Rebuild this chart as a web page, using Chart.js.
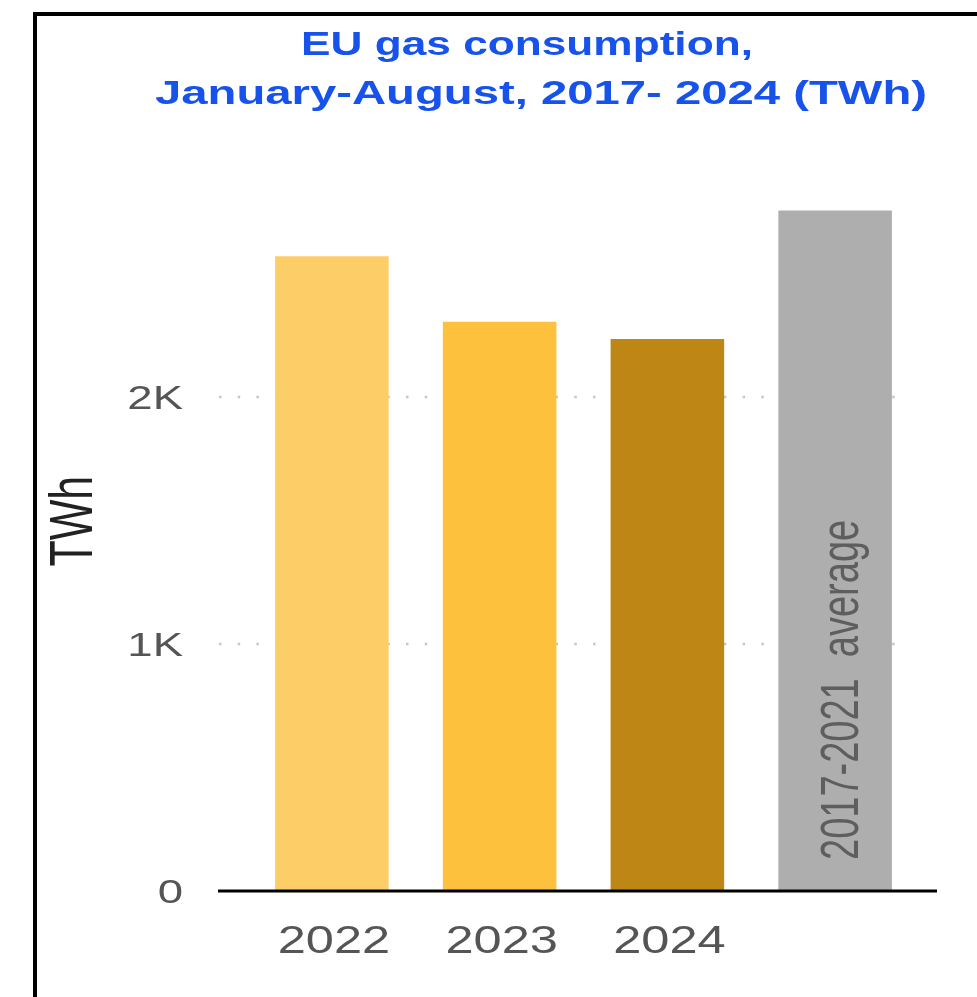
<!DOCTYPE html>
<html>
<head>
<meta charset="utf-8">
<title>EU gas consumption</title>
<script src="https://cdn.jsdelivr.net/npm/chart.js@4/dist/chart.umd.min.js"></script>
<style>
    html, body { margin: 0; padding: 0; background: #fff; overflow: hidden; }
    .frame {
        position: absolute; left: 33px; top: 12px;
        width: 1000px; height: 1000px;
        border-left: 4px solid #000; border-top: 4px solid #000;
    }
    #gasChart { position: absolute; left: 0; top: 0; }
</style>
</head>
<body>
<div class="frame"></div>
<canvas id="gasChart" width="977" height="997"></canvas>
<script>
// EU gas consumption, January-August (TWh)
const titleLines = ['EU gas consumption,', 'January-August, 2017- 2024 (TWh)'];
const categories = ['2022', '2023', '2024', '2017-2021  average'];
const consumption = [2570, 2305, 2235, 2755];
const barColors = ['#fdce68', '#fec13e', '#be8614', '#aeaeae'];
const yTicks = [0, 1000, 2000];
const yTickLabels = ['0', '1K', '2K'];
const axisTitle = 'TWh';

const FONT = '"Liberation Sans", Arial, sans-serif';

// text in this chart is drawn wide, so every label goes through here
function drawText(ctx, text, x, y, o) {
    ctx.save();
    ctx.translate(x, y);
    if (o.rotate) ctx.rotate(o.rotate);
    ctx.scale(o.sx || 1, o.sy || 1);
    ctx.font = (o.weight || 'normal') + ' ' + o.size + 'px ' + FONT;
    ctx.fillStyle = o.color;
    ctx.textAlign = o.align || 'center';
    ctx.textBaseline = o.baseline || 'alphabetic';
    ctx.fillText(text, 0, 0);
    ctx.restore();
}

const decorations = {
    id: 'decorations',
    beforeDatasetsDraw(chart) {
        const { ctx, chartArea, scales: { y } } = chart;
        // dotted gridlines, sitting behind the bars
        ctx.save();
        ctx.strokeStyle = '#c6c6c6';
        ctx.lineWidth = 2.5;
        ctx.setLineDash([2.5, 16.2]);
        yTicks.forEach(v => {
            if (v === 0) return;
            const py = Math.round(y.getPixelForValue(v));
            ctx.beginPath();
            ctx.moveTo(chartArea.left - 29, py);
            ctx.lineTo(chartArea.right - 8, py);
            ctx.stroke();
        });
        ctx.restore();
    },
    afterDatasetsDraw(chart) {
        const { ctx, chartArea, scales: { x, y } } = chart;
        const base = y.getPixelForValue(0);

        // baseline
        ctx.save();
        ctx.strokeStyle = '#000';
        ctx.lineWidth = 3;
        ctx.beginPath();
        ctx.moveTo(chartArea.left - 30, base);
        ctx.lineTo(chartArea.right + 18, base);
        ctx.stroke();
        ctx.restore();

        // y tick labels
        yTicks.forEach((v, i) => {
            drawText(ctx, yTickLabels[i], chartArea.left - 65, y.getPixelForValue(v) + 12,
                { size: 33, sx: 1.38, color: '#555', align: 'right' });
        });

        // x tick labels, the average bar carries its own label
        categories.forEach((c, i) => {
            if (i === categories.length - 1) return;
            drawText(ctx, c, x.getPixelForValue(i) + 2, base + 62,
                { size: 38, sx: 1.33, color: '#555' });
        });

        const avg = chart.getDatasetMeta(0).data[categories.length - 1];
        drawText(ctx, categories[categories.length - 1], avg.x + 23, base - 31,
            { size: 38, sy: 1.42, rotate: -Math.PI / 2, color: '#5e5e5e', align: 'left' });

        // axis title
        drawText(ctx, axisTitle, 92, (chartArea.top + base) / 2 - 24,
            { size: 43, sy: 1.4, rotate: -Math.PI / 2, color: '#222' });

        // chart title
        drawText(ctx, titleLines[0], 527, 55,
            { size: 34, sx: 1.3, weight: 'bold', color: '#1753ea' });
        drawText(ctx, titleLines[1], 541, 104,
            { size: 34, sx: 1.39, weight: 'bold', color: '#1753ea' });
    }
};

const ctx = document.getElementById('gasChart').getContext('2d');
new Chart(ctx, {
    type: 'bar',
    data: {
        labels: categories,
        datasets: [{
            data: consumption,
            backgroundColor: barColors,
            borderWidth: 0,
            categoryPercentage: 1,
            barPercentage: 0.677
        }]
    },
    options: {
        responsive: false,
        animation: false,
        layout: {
            padding: { left: 248, right: 58, top: 199.4, bottom: 106 }
        },
        plugins: {
            legend: { display: false },
            title: { display: false },
            tooltip: { enabled: false }
        },
        scales: {
            x: { display: false },
            y: { display: false, min: 0, max: 2800 }
        }
    },
    plugins: [decorations]
});
</script>
</body>
</html>
